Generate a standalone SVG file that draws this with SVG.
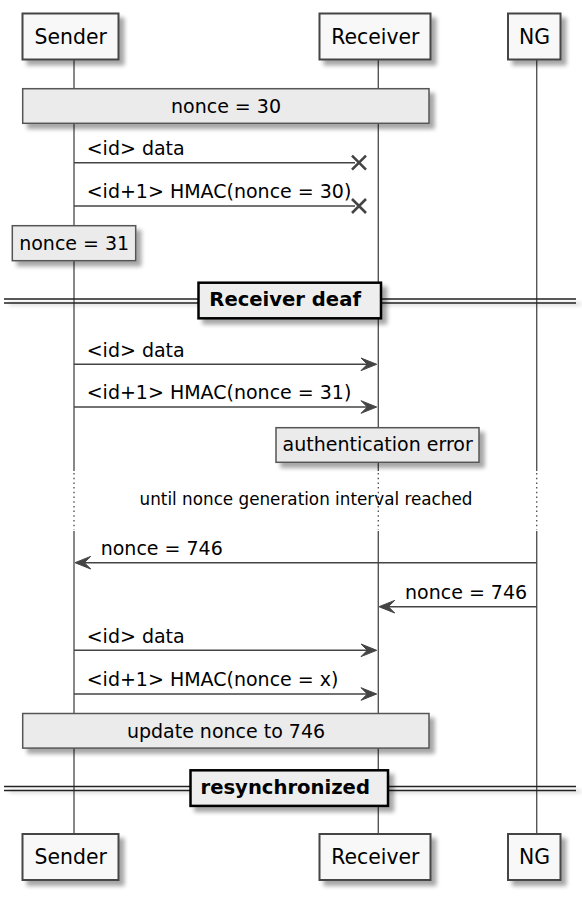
<svg xmlns="http://www.w3.org/2000/svg" width="582" height="900" viewBox="0 0 582 900">
<defs>
<filter id="sh" filterUnits="userSpaceOnUse" x="0" y="0" width="582" height="900">
<feGaussianBlur in="SourceAlpha" stdDeviation="2.2"/>
<feOffset dx="4.5" dy="4.5"/>
<feComponentTransfer><feFuncA type="linear" slope="0.35"/></feComponentTransfer>
<feMerge><feMergeNode/><feMergeNode in="SourceGraphic"/></feMerge>
</filter>
</defs>
<style>
text{font-family:"DejaVu Sans","Liberation Sans",sans-serif;fill:#000}
.p rect{fill:#F8F8F8;stroke:#444;stroke-width:2;filter:url(#sh)}
.p text{font-size:20.4px;text-anchor:middle}
.n rect{fill:#EBEBEB;stroke:#555;stroke-width:1.5;filter:url(#sh)}
.n text{font-size:19px;text-anchor:middle}
.d rect{fill:#EEEEEE;stroke:#000;stroke-width:2.5;filter:url(#sh)}
.d line{stroke:#222;stroke-width:1.3}
.d text{font-size:19.6px;font-weight:bold}
.life{stroke:#555;stroke-width:1.4;fill:none}
.dot{stroke:#555;stroke-width:1.4;stroke-dasharray:1.5 3.2}
.m line{stroke:#444;stroke-width:1.5}
.m polygon{fill:#444;stroke:#444;stroke-width:1}
.m path{stroke:#444;stroke-width:2.6;fill:none}
.m text{font-size:19px}
.delay{font-size:16.8px;text-anchor:middle}
</style>
<g id="lifelines">
<line class="life" x1="74" y1="59.5" x2="74" y2="471"/>
<line class="dot" x1="74" y1="473" x2="74" y2="530"/>
<line class="life" x1="74" y1="531" x2="74" y2="834"/>
<line class="life" x1="378.3" y1="59.5" x2="378.3" y2="471"/>
<line class="dot" x1="378.3" y1="473" x2="378.3" y2="530"/>
<line class="life" x1="378.3" y1="531" x2="378.3" y2="834"/>
<line class="life" x1="536.7" y1="59.5" x2="536.7" y2="471"/>
<line class="dot" x1="536.7" y1="473" x2="536.7" y2="530"/>
<line class="life" x1="536.7" y1="531" x2="536.7" y2="834"/>
</g>
<g id="sender-top" class="p"><rect x="22.5" y="13.5" width="96" height="46"/><text x="70.7" y="43.5">Sender</text></g>
<g id="receiver-top" class="p"><rect x="319.5" y="13.5" width="111" height="46"/><text x="375.3" y="43.5">Receiver</text></g>
<g id="ng-top" class="p"><rect x="508" y="13.5" width="52.5" height="46"/><text x="534.5" y="43.5">NG</text></g>
<g id="sender-bottom" class="p"><rect x="22.5" y="834" width="96" height="46"/><text x="70.7" y="864">Sender</text></g>
<g id="receiver-bottom" class="p"><rect x="319.5" y="834" width="111" height="46"/><text x="375.3" y="864">Receiver</text></g>
<g id="ng-bottom" class="p"><rect x="508" y="834" width="52.5" height="46"/><text x="534.5" y="864">NG</text></g>
<g id="note-nonce30" class="n"><rect x="22.7" y="88.7" width="406.3" height="34.6"/><text x="226" y="113">nonce = 30</text></g>
<g id="note-nonce31" class="n"><rect x="12.3" y="225.7" width="123.4" height="35"/><text x="74.2" y="250">nonce = 31</text></g>
<g id="divider-deaf" class="d">
<line x1="4" y1="299" x2="576" y2="299" filter="url(#sh)"/>
<line x1="4" y1="303" x2="576" y2="303"/>
<rect x="198.5" y="282.7" width="182.5" height="35.6"/>
<text x="209.3" y="306">Receiver deaf</text>
</g>
<g id="note-autherr" class="n"><rect x="276" y="427.7" width="203" height="34.6"/><text x="377.7" y="451">authentication error</text></g>
<g id="delay"><text class="delay" x="306" y="505">until nonce generation interval reached</text></g>
<g id="note-update" class="n"><rect x="22.7" y="713.5" width="406.3" height="34.6"/><text x="226" y="738">update nonce to 746</text></g>
<g id="divider-resync" class="d">
<line x1="4" y1="786.5" x2="576" y2="786.5" filter="url(#sh)"/>
<line x1="4" y1="790.5" x2="576" y2="790.5"/>
<rect x="190.5" y="770.3" width="197.5" height="35.6"/>
<text x="200.5" y="793.6">resynchronized</text>
</g>
<g id="connectors" class="m">
<line x1="74" y1="162.7" x2="355" y2="162.7"/>
<path d="M352,155.7 L366,169.7 M366,155.7 L352,169.7"/>
<text x="86.7" y="155">&lt;id&gt; data</text>
<line x1="74" y1="206" x2="355" y2="206"/>
<path d="M352,199 L366,213 M366,199 L352,213"/>
<text x="86.7" y="198.3">&lt;id+1&gt; HMAC(nonce = 30)</text>
<line x1="74" y1="364.3" x2="374" y2="364.3"/>
<polygon points="361,358 376.7,364.3 361,370.6 367.3,364.3"/>
<text x="86.7" y="356.6">&lt;id&gt; data</text>
<line x1="74" y1="407" x2="374" y2="407"/>
<polygon points="361,400.7 376.7,407 361,413.3 367.3,407"/>
<text x="86.7" y="399.3">&lt;id+1&gt; HMAC(nonce = 31)</text>
<line x1="536.7" y1="562.7" x2="77" y2="562.7"/>
<polygon points="90.7,556.4 75,562.7 90.7,569 84.4,562.7"/>
<text x="100.7" y="555">nonce = 746</text>
<line x1="536.7" y1="606.7" x2="381" y2="606.7"/>
<polygon points="394.7,600.4 379,606.7 394.7,613 388.4,606.7"/>
<text x="405" y="599">nonce = 746</text>
<line x1="74" y1="650.3" x2="374" y2="650.3"/>
<polygon points="361,644 376.7,650.3 361,656.6 367.3,650.3"/>
<text x="86.7" y="642.6">&lt;id&gt; data</text>
<line x1="74" y1="694" x2="374" y2="694"/>
<polygon points="361,687.7 376.7,694 361,700.3 367.3,694"/>
<text x="86.7" y="686.3">&lt;id+1&gt; HMAC(nonce = x)</text>
</g>
</svg>
